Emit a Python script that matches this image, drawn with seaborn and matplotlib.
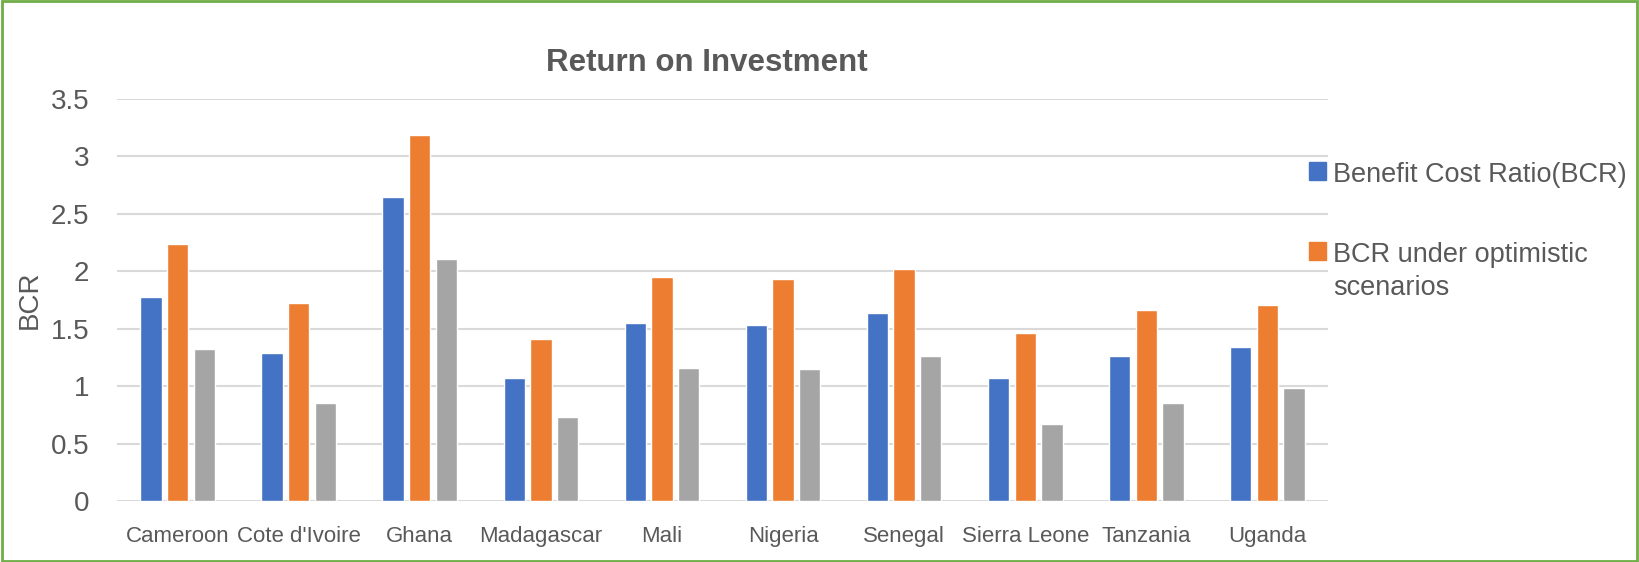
import matplotlib
matplotlib.use("Agg")
import matplotlib.pyplot as plt
from matplotlib.patches import Rectangle
import seaborn as sns
import pandas as pd

# Dati
countries = ["Cameroon", "Cote d'Ivoire", "Ghana", "Madagascar", "Mali",
             "Nigeria", "Senegal", "Sierra Leone", "Tanzania", "Uganda"]
bcr = [1.78, 1.285, 2.65, 1.07, 1.55, 1.535, 1.635, 1.07, 1.26, 1.345]
bcr_optimistic = [2.24, 1.72, 3.19, 1.41, 1.95, 1.93, 2.02, 1.46, 1.66, 1.71]
bcr_pessimistic = [1.32, 0.85, 2.11, 0.73, 1.16, 1.145, 1.26, 0.67, 0.85, 0.98]

series_names = ["Benefit Cost Ratio(BCR)", "BCR under optimistic\nscenarios",
                "BCR under pessimistic scenarios"]
colors = ["#4472C4", "#ED7D31", "#A5A5A5"]

df = pd.DataFrame({
    "Country": countries * 3,
    "BCR": bcr + bcr_optimistic + bcr_pessimistic,
    "Series": [series_names[0]] * 10 + [series_names[1]] * 10 + [series_names[2]] * 10,
})

sns.set_style("white")
plt.rcParams["font.family"] = ["Liberation Sans", "DejaVu Sans"]
text_color = "#595959"

fig = plt.figure(figsize=(16.39, 5.62), dpi=100)
ax = fig.add_axes([117 / 1639, 1 - 501 / 562, (1328 - 117) / 1639, (501 - 99) / 562])

sns.barplot(data=df, x="Country", y="BCR", hue="Series", palette=colors,
            saturation=1, width=0.66, gap=0.2, ax=ax, legend=False, zorder=3)

ax.set_ylim(0, 3.5)
ax.set_yticks([0, 0.5, 1, 1.5, 2, 2.5, 3, 3.5])
ax.set_yticklabels(["0", "0.5", "1", "1.5", "2", "2.5", "3", "3.5"])
ax.grid(axis="y", color="#D9D9D9", linewidth=1.5, zorder=0)
ax.set_axisbelow(True)
sns.despine(ax=ax, left=True, bottom=True, top=True, right=True)

ax.tick_params(axis="y", length=0, pad=20, labelsize=20, labelcolor=text_color)
ax.tick_params(axis="x", length=0, pad=18, labelsize=16, labelcolor=text_color)

ax.set_xlabel("")
ax.set_ylabel("BCR", fontsize=20, color=text_color)
ax.yaxis.set_label_coords(-0.061, 0.5)

ax.set_title("Return on Investment", fontsize=22.5, fontweight="bold",
             color=text_color, x=0.487, pad=20)

# legenda solo per le prime due serie
handles = [Rectangle((0, 0), 1, 1, color=c) for c in colors[:2]]
leg = fig.legend(handles, series_names[:2], loc="upper left",
                 bbox_to_anchor=(1309 / 1639, 1 - 162 / 562), frameon=False,
                 fontsize=19.5, handlelength=0.62, handleheight=0.62,
                 handletextpad=0.26, labelspacing=2.0, borderpad=0, borderaxespad=0)
for t in leg.get_texts():
    t.set_color(text_color)
    t.set_linespacing(1.35)
for col in leg._legend_handle_box.get_children():
    for row in col.get_children():
        row.align = "top"

# bordo verde attorno alla figura
fig.patches.append(Rectangle((0.001, 0.002), 0.998, 0.996, transform=fig.transFigure,
                             fill=False, edgecolor="#70AD47", linewidth=2))

fig.savefig("out.png", dpi=100)
